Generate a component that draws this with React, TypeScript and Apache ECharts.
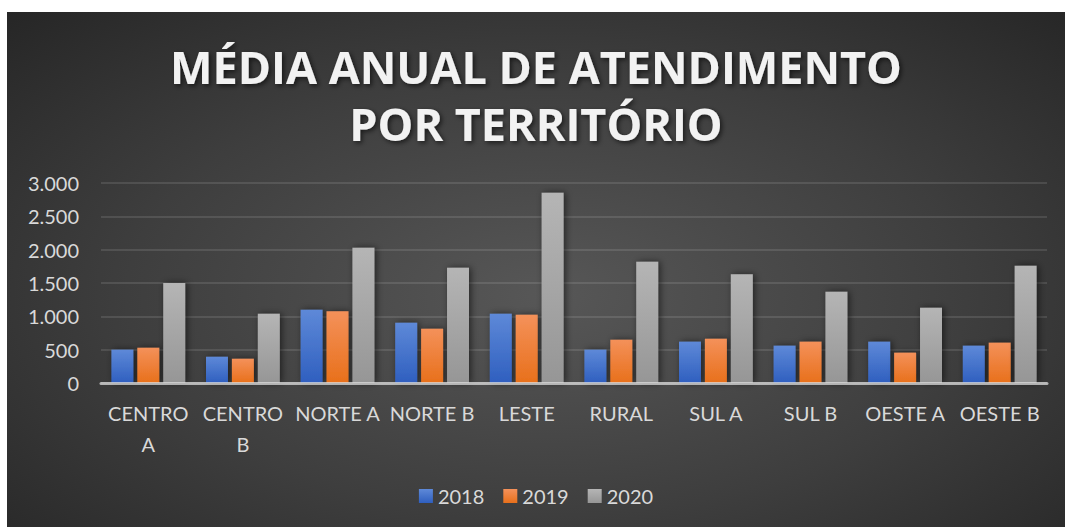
import React, { useEffect, useRef } from "react";
import * as echarts from "echarts";

const categories = ["CENTRO\nA", "CENTRO\nB", "NORTE A", "NORTE B", "LESTE", "RURAL", "SUL A", "SUL B", "OESTE A", "OESTE B"];
const years = ["2018", "2019", "2020"];
const values2018 = [500, 395, 1100, 905, 1040, 500, 620, 560, 620, 560];
const values2019 = [530, 365, 1075, 815, 1025, 650, 665, 620, 455, 605];
const values2020 = [1500, 1040, 2030, 1730, 2855, 1820, 1630, 1370, 1130, 1760];
const yTicks = { min: 0, max: 3000, interval: 500 };
const titleLines = ["MÉDIA ANUAL DE ATENDIMENTO", "POR TERRITÓRIO"];

const grad = (top: string, bottom: string) =>
  new echarts.graphic.LinearGradient(0, 0, 0, 1, [
    { offset: 0, color: top },
    { offset: 1, color: bottom },
  ]);

export default function App() {
  const ref = useRef<HTMLDivElement>(null);
  useEffect(() => {
    if (!ref.current) return;
    const chart = echarts.init(ref.current, null, { renderer: "svg" });
    const fills = [
      grad("#5e89d8", "#2f5fbf"),
      grad("#f4915a", "#e8701b"),
      grad("#b5b5b5", "#969696"),
    ];
    const data = [values2018, values2019, values2020];
    chart.setOption({
      animation: false,
      backgroundColor: "transparent",
      title: {
        text: titleLines.join("\n"),
        left: "center",
        top: 21,
        textStyle: {
          color: "#f2f2f2",
          fontFamily: "Open Sans",
          fontWeight: "bold",
          fontSize: 45,
          lineHeight: 57,
          textShadowColor: "rgba(0,0,0,0.6)",
          textShadowBlur: 5,
          textShadowOffsetX: 2,
          textShadowOffsetY: 2,
        },
      },
      legend: {
        data: years,
        bottom: 16,
        left: "center",
        icon: "rect",
        itemWidth: 14,
        itemHeight: 14,
        itemGap: 19,
        textStyle: { color: "#d9d9d9", fontFamily: "Lato", fontSize: 20 },
      },
      grid: { left: 94, right: 18, top: 171, bottom: 144, containLabel: false },
      xAxis: {
        type: "category",
        data: categories,
        z: 5,
        axisLine: { lineStyle: { color: "rgba(220,220,220,0.75)", width: 3 } },
        axisTick: { show: false },
        axisLabel: {
          interval: 0,
          color: "#d9d9d9",
          fontFamily: "Lato",
          fontSize: 20,
          lineHeight: 31,
          margin: 14,
        },
      },
      yAxis: {
        type: "value",
        min: yTicks.min,
        max: yTicks.max,
        interval: yTicks.interval,
        axisLine: { show: false },
        axisTick: { show: false },
        splitLine: { lineStyle: { color: "rgba(255,255,255,0.11)", width: 2 } },
        axisLabel: {
          color: "#d9d9d9",
          fontFamily: "Lato",
          fontSize: 20,
          margin: 22,
          formatter: (v: number) => v.toLocaleString("pt-BR"),
        },
      },
      series: years.map((y, i) => ({
        name: y,
        type: "bar",
        data: data[i],
        barGap: "18%",
        barCategoryGap: "22%",
        itemStyle: {
          color: fills[i],
          shadowColor: "rgba(0,0,0,0.55)",
          shadowBlur: 7,
          shadowOffsetX: 2,
          shadowOffsetY: 0,
        },
      })),
    });
    return () => chart.dispose();
  }, []);
  return (
    <div style={{ position: "fixed", left: 0, top: 0, width: 1065, height: 527, background: "#ffffff" }}>
      <div
        ref={ref}
        style={{
          position: "absolute",
          left: 7,
          top: 12,
          width: 1058,
          height: 515,
          background: "radial-gradient(ellipse farthest-corner at 51% 55%, #575757 0%, #3e3e3e 55%, #262626 100%)",
        }}
      />
    </div>
  );
}
